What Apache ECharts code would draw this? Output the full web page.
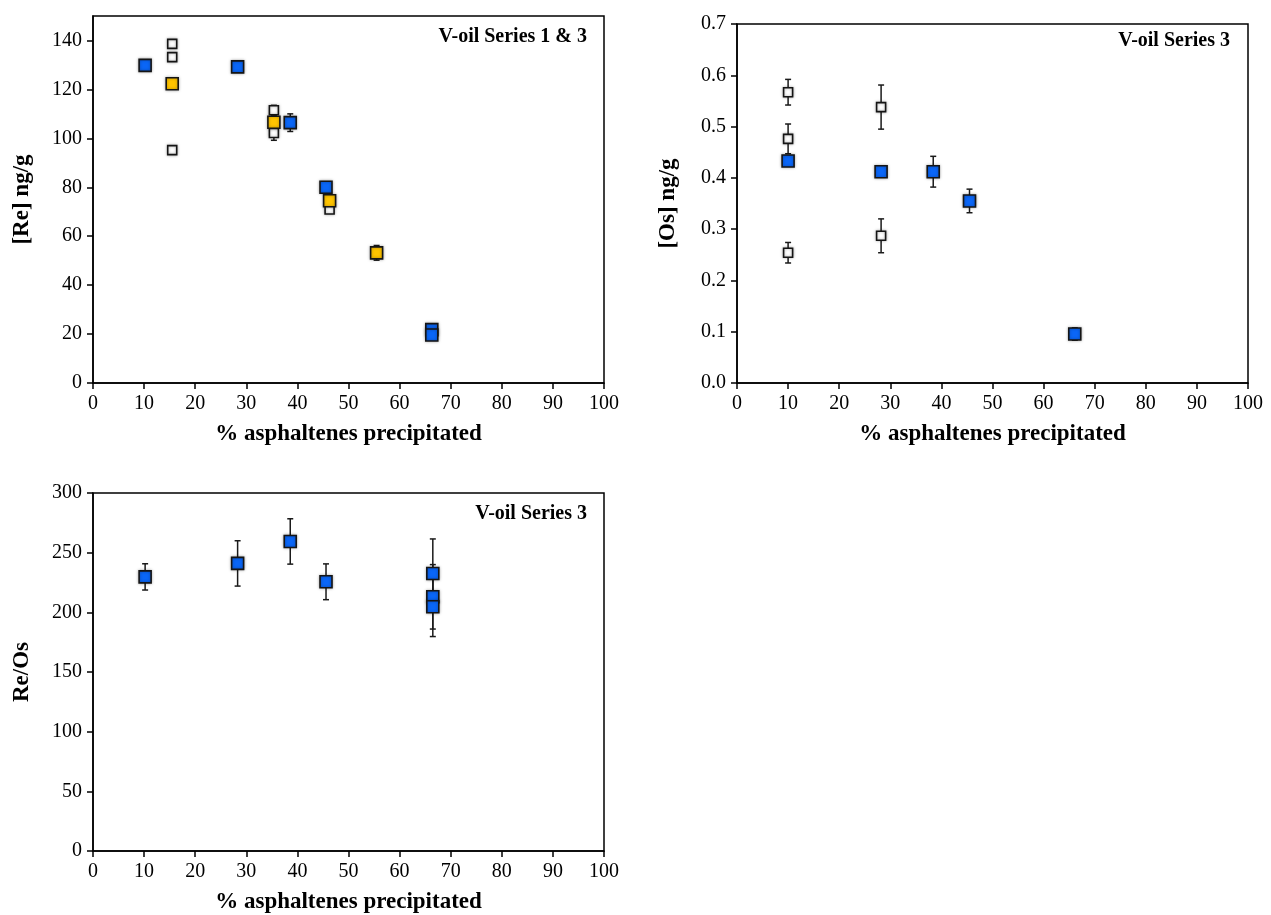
<!DOCTYPE html>
<html>
<head>
<meta charset="utf-8">
<script src="https://cdn.jsdelivr.net/npm/echarts@6/dist/echarts.min.js"></script>
<style>
  html, body { margin: 0; padding: 0; background: #fff; }
  #main { width: 1271px; height: 915px; }
</style>
</head>
<body>
<div id="main"></div>
<script>
// --- data ---
const xTicks = [0, 10, 20, 30, 40, 50, 60, 70, 80, 90, 100];
const reTicks = [0, 20, 40, 60, 80, 100, 120, 140];

// [Re] ng/g, V-oil Series 1 & 3
const reBlueX = [10.2, 28.3, 38.6, 45.6, 66.3, 66.3];
const reBlueY = [129.8, 129.2, 106.4, 80.0, 21.8, 19.6];
const reBlueErr = [1, 2, 3.6, 1.5, 1, 1];
const reYellowX = [15.5, 35.4, 46.3, 55.5];
const reYellowY = [122.3, 106.6, 74.5, 53.2];
const reYellowErr = [1, 2, 1.5, 3];
const reOpenX = [15.5, 15.5, 15.5, 35.4, 35.4, 46.3];
const reOpenY = [138.6, 133.2, 95.2, 111.5, 102.2, 70.9];
const reOpenErr = [0.5, 0.5, 0.5, 2, 3, 1];

// [Os] ng/g, V-oil Series 3
const osBlueX = [10.0, 28.2, 38.4, 45.5, 66.1];
const osBlueY = [0.433, 0.412, 0.412, 0.355, 0.0955];
const osBlueErr = [0.005, 0.005, 0.03, 0.023, 0.012];
const osOpenX = [10.0, 10.0, 10.0, 28.2, 28.2];
const osOpenY = [0.567, 0.476, 0.254, 0.538, 0.287];
const osOpenErr = [0.025, 0.029, 0.02, 0.043, 0.033];

// Re/Os, V-oil Series 3
const ratioBlueX = [10.2, 28.3, 38.6, 45.6, 66.5, 66.5, 66.5];
const ratioBlueY = [229.7, 241, 259.4, 225.6, 232.5, 213, 204.7];
const ratioBlueErr = [11, 19, 19, 15, 29, 27, 25];

const BLUE = '#0a66f7';
const YELLOW = '#ffc400';
const FONT = 'Liberation Serif';

function pts(xs, ys) { return xs.map((x, i) => [x, ys[i]]); }
function bars(xs, ys, es) { return xs.map((x, i) => [x, ys[i] - es[i], ys[i] + es[i]]); }

function renderErr(params, api) {
  const x = api.value(0);
  const lo = api.coord([x, api.value(1)]);
  const hi = api.coord([x, api.value(2)]);
  const w = 3;
  const st = { stroke: '#1a1a1a', lineWidth: 1.5 };
  return {
    type: 'group',
    children: [
      { type: 'line', shape: { x1: hi[0], y1: hi[1], x2: lo[0], y2: lo[1] }, style: st },
      { type: 'line', shape: { x1: hi[0] - w, y1: hi[1], x2: hi[0] + w, y2: hi[1] }, style: st },
      { type: 'line', shape: { x1: lo[0] - w, y1: lo[1], x2: lo[0] + w, y2: lo[1] }, style: st }
    ]
  };
}

function errSeries(idx, data) {
  return { type: 'custom', xAxisIndex: idx, yAxisIndex: idx, renderItem: renderErr,
    encode: { x: 0, y: [1, 2] }, data: data, z: 1, silent: true };
}
function markSeries(idx, data, color, size) {
  return { type: 'scatter', xAxisIndex: idx, yAxisIndex: idx, symbol: 'rect', symbolSize: size,
    data: data, z: 3, silent: true,
    itemStyle: { color: color, borderColor: '#151515', borderWidth: 1.6, opacity: 1,
      shadowBlur: 3, shadowColor: 'rgba(0,0,0,0.35)' } };
}

const axisCommon = {
  axisLine: { show: true, onZero: false, lineStyle: { color: '#000', width: 1.5 } },
  axisTick: { show: true, inside: false, length: 6, lineStyle: { color: '#000', width: 1.5 } },
  splitLine: { show: false },
  nameTextStyle: { fontFamily: FONT, fontWeight: 'bold', fontSize: 23, color: '#000' }
};
const labelCommon = { fontFamily: FONT, fontSize: 20, color: '#000' };

function xAxisFor(idx) {
  return Object.assign({}, axisCommon, {
    type: 'value', gridIndex: idx, min: 0, max: 100, interval: 10,
    name: '% asphaltenes precipitated', nameLocation: 'middle', nameGap: 40,
    axisLabel: Object.assign({}, labelCommon, { margin: 11 })
  });
}

const grids = [
  { left: 93, top: 16, width: 511, height: 367 },
  { left: 737, top: 24, width: 511, height: 359 },
  { left: 93, top: 493, width: 511, height: 360 }
].map(g => Object.assign(g, { show: true, borderColor: '#000', borderWidth: 1.5, backgroundColor: 'transparent' }));

const annot = 'bold 20px "Liberation Serif"';

const option = {
  animation: false,
  backgroundColor: '#fff',
  grid: grids,
  xAxis: [xAxisFor(0), xAxisFor(1), xAxisFor(2)],
  yAxis: [
    Object.assign({}, axisCommon, {
      type: 'value', gridIndex: 0, min: 0, max: 150,
      name: '[Re] ng/g', nameLocation: 'middle', nameGap: 59,
      axisTick: Object.assign({}, axisCommon.axisTick, { customValues: reTicks }),
      axisLabel: Object.assign({}, labelCommon, { margin: 11, customValues: reTicks })
    }),
    Object.assign({}, axisCommon, {
      type: 'value', gridIndex: 1, min: 0, max: 0.7, interval: 0.1,
      name: '[Os] ng/g', nameLocation: 'middle', nameGap: 57,
      axisLabel: Object.assign({}, labelCommon, { margin: 11, formatter: v => v.toFixed(1) })
    }),
    Object.assign({}, axisCommon, {
      type: 'value', gridIndex: 2, min: 0, max: 300, interval: 50,
      name: 'Re/Os', nameLocation: 'middle', nameGap: 59,
      axisLabel: Object.assign({}, labelCommon, { margin: 11 })
    })
  ],
  graphic: [
    { type: 'text', right: 1271 - 587, top: 27, style: { text: 'V-oil Series 1 & 3', font: annot, fill: '#000' } },
    { type: 'text', right: 1271 - 1230, top: 31, style: { text: 'V-oil Series 3', font: annot, fill: '#000' } },
    { type: 'text', right: 1271 - 587, top: 504, style: { text: 'V-oil Series 3', font: annot, fill: '#000' } }
  ],
  series: [
    errSeries(0, bars(reOpenX, reOpenY, reOpenErr)),
    errSeries(0, bars(reYellowX, reYellowY, reYellowErr)),
    errSeries(0, bars(reBlueX, reBlueY, reBlueErr)),
    markSeries(0, pts(reOpenX, reOpenY), '#fff', 9),
    markSeries(0, pts(reBlueX, reBlueY), BLUE, 12),
    markSeries(0, pts(reYellowX, reYellowY), YELLOW, 12),

    errSeries(1, bars(osOpenX, osOpenY, osOpenErr)),
    errSeries(1, bars(osBlueX, osBlueY, osBlueErr)),
    markSeries(1, pts(osOpenX, osOpenY), '#fff', 9),
    markSeries(1, pts(osBlueX, osBlueY), BLUE, 12),

    errSeries(2, bars(ratioBlueX, ratioBlueY, ratioBlueErr)),
    markSeries(2, pts(ratioBlueX, ratioBlueY), BLUE, 12)
  ]
};

const chart = echarts.init(document.getElementById('main'), null, { renderer: 'canvas' });
chart.setOption(option);
</script>
</body>
</html>
